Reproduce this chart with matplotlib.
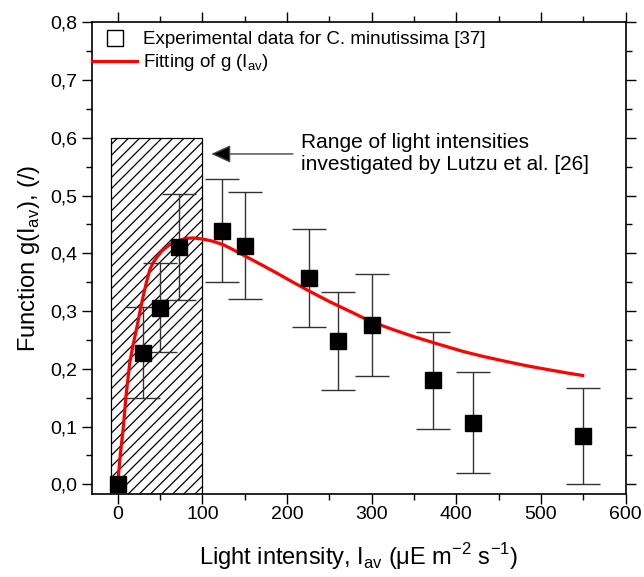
import numpy as np
import matplotlib.pyplot as plt
from matplotlib.lines import Line2D
from matplotlib.patches import Rectangle
from matplotlib.ticker import MultipleLocator, FuncFormatter

plt.rcParams['font.family'] = ['Liberation Sans', 'DejaVu Sans']
plt.rcParams['mathtext.fontset'] = 'custom'
plt.rcParams['mathtext.rm'] = 'Liberation Sans'
plt.rcParams['hatch.linewidth'] = 0.9

# experimental g(I_av) values and their error bars
light = [0, 30, 50, 72, 123, 150, 226, 260, 300, 372, 420, 550]
g_exp = [0.0, 0.228, 0.306, 0.411, 0.439, 0.4135, 0.357, 0.248, 0.276, 0.180, 0.107, 0.084]
g_err = [0.0, 0.079, 0.077, 0.091, 0.089, 0.093, 0.085, 0.085, 0.088, 0.084, 0.087, 0.083]

# fitted curve
fit_x = [0, 3, 6.3, 10, 14.2, 18, 22, 26, 30, 34, 37.8, 41.5, 45.7, 52, 61.5, 70, 81,
         90, 100.8, 112, 124.5, 138, 152, 170, 187.6, 207, 227, 250.6, 275, 298.7,
         325, 349, 378, 408, 433, 459.4, 484, 506.7, 530, 551]
fit_y = [0.0, 0.05, 0.094, 0.155, 0.21, 0.24, 0.267, 0.297, 0.325, 0.35, 0.371, 0.383,
         0.392, 0.404, 0.415, 0.421, 0.426, 0.4265, 0.4246, 0.421, 0.415, 0.405,
         0.394, 0.38, 0.366, 0.35, 0.334, 0.316, 0.299, 0.282, 0.268, 0.256, 0.243,
         0.230, 0.221, 0.2125, 0.205, 0.199, 0.193, 0.188]

# range of light intensities from Lutzu et al.
range_x = [-8, 100]
range_top = 0.6

fig = plt.figure(figsize=(6.44, 5.77), dpi=100)
ax = fig.add_axes([0.1433, 0.1433, 0.8283, 0.8181])

ax.add_patch(Rectangle((range_x[0], -0.05), range_x[1] - range_x[0], range_top + 0.05,
                       facecolor='white', edgecolor='black', hatch='///', lw=0.9, zorder=1))

# only points with a nonzero error get bars
eb = [(x, y, e) for x, y, e in zip(light, g_exp, g_err) if e > 0]
ax.errorbar([p[0] for p in eb], [p[1] for p in eb], yerr=[p[2] for p in eb], fmt='none',
            ecolor='#333333', elinewidth=1.0, capsize=12, capthick=1.0, zorder=2)
ax.plot(fit_x, fit_y, color='red', lw=2.3, zorder=3, solid_capstyle='butt')
ax.plot(light, g_exp, 's', color='black', ms=11.5, zorder=4)

ax.annotate('', xy=(110.5, 0.572), xytext=(207, 0.572),
            arrowprops=dict(arrowstyle='-|>,head_length=1.2,head_width=0.55',
                            color='#444444', fc='black', ec='#444444', lw=1.0,
                            mutation_scale=10, shrinkA=0, shrinkB=0))
ax.text(217, 0.608, 'Range of light intensities\ninvestigated by Lutzu et al. [26]',
        fontsize=15, va='top', ha='left', linespacing=1.2)

ax.set_xlim(-30, 600)
ax.set_ylim(-0.0173, 0.8)
ax.xaxis.set_major_locator(MultipleLocator(100))
ax.xaxis.set_minor_locator(MultipleLocator(50))
ax.yaxis.set_major_locator(MultipleLocator(0.1))
ax.yaxis.set_minor_locator(MultipleLocator(0.05))
ax.yaxis.set_major_formatter(FuncFormatter(lambda v, p: ('%.1f' % v).replace('.', ',')))
ax.tick_params(which='both', direction='out', top=True, right=True, width=1.0,
               labelsize=14)
ax.tick_params(which='major', length=7)
ax.tick_params(which='minor', length=4)
ax.tick_params(axis='x', which='major', pad=1.5)
ax.tick_params(axis='y', which='major', pad=3.5)
for s in ax.spines.values():
    s.set_linewidth(1.2)

ax.set_xlabel(r'Light intensity, I$_{\mathregular{av}}$ ($\mathregular{\mu}$E m$^{\mathregular{-2}}$ s$^{\mathregular{-1}}$)',
              fontsize=17, labelpad=13)
ax.set_ylabel(r'Function g(I$_{\mathregular{av}}$), (/)', fontsize=17, labelpad=6)

handles = [Line2D([], [], ls='none', marker='s', mfc='white', mec='black', ms=11, mew=1.0),
           Line2D([], [], color='red', lw=2.3)]
labels = ['Experimental data for C. minutissima [37]', r'Fitting of g (I$_{\mathregular{av}}$)']
ax.legend(handles, labels, loc='upper left', frameon=False, fontsize=13.5,
          handlelength=2.4, handletextpad=0.3, borderaxespad=0.0, borderpad=0.0,
          labelspacing=0.2, bbox_to_anchor=(0.0, 0.981))

fig.savefig('out.png', dpi=100)
